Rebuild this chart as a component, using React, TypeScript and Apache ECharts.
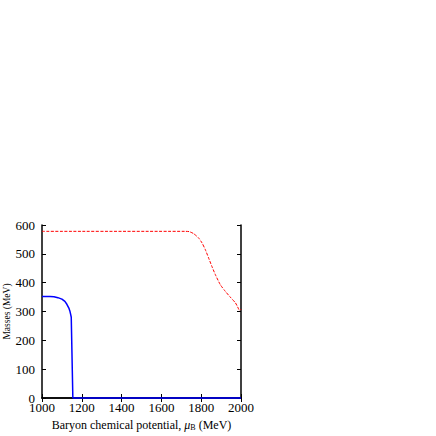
import React, { useEffect, useRef } from "react";
import * as echarts from "echarts";

const xTicks = [1000, 1200, 1400, 1600, 1800, 2000];
const yTicks = [0, 100, 200, 300, 400, 500, 600];

const blueMu = [1000, 1040, 1060, 1080, 1100, 1115, 1125, 1135, 1140, 1144, 1147, 1155, 1200, 2000];
const blueMass = [352, 352, 351, 348, 343, 335, 325, 312, 302, 290, 280, 0, 0, 0];

const redMu = [1000, 1720, 1740, 1762, 1787, 1804, 1821, 1837, 1854, 1871, 1896, 1921, 1946, 1972, 1983, 1990, 1995, 2000];
const redMass = [578, 578, 577, 570, 555, 538, 514, 486, 456, 428, 393, 370, 350, 330, 316, 306, 304, 308];

const FONT = "Liberation Serif";

export default function App() {
  const ref = useRef<HTMLDivElement>(null);
  useEffect(() => {
    if (!ref.current) return;
    const chart = echarts.init(ref.current, null, { renderer: "svg" });
    const axisCommon = {
      axisLine: { show: true, lineStyle: { color: "#000", width: 1.5 } },
      axisTick: { show: true, inside: true, length: 4, lineStyle: { color: "#000", width: 1 } },
      splitLine: { show: false },
    };
    chart.setOption({
      animation: false,
      backgroundColor: "#fff",
      grid: { left: 42, right: 195, top: 225, bottom: 38, containLabel: false },
      xAxis: [
        {
          type: "value",
          min: xTicks[0],
          max: xTicks[xTicks.length - 1],
          interval: 200,
          position: "bottom",
          ...axisCommon,
          axisLabel: { color: "#000", fontFamily: FONT, fontSize: 13, margin: 3, formatter: (v: number) => String(v) },
          name: "{a|Baryon chemical potential, }{i|μ}{s|B}{a| (MeV)}",
          nameLocation: "middle",
          nameGap: 20,
          nameTextStyle: {
            rich: {
              a: { fontFamily: FONT, fontSize: 12, color: "#000" },
              i: { fontFamily: FONT, fontSize: 12, fontStyle: "italic", color: "#000" },
              s: { fontFamily: FONT, fontSize: 8, color: "#000", verticalAlign: "bottom", padding: [5, 0, 0, 0] },
            },
          },
        },
        {
          type: "value",
          min: xTicks[0],
          max: xTicks[xTicks.length - 1],
          interval: 200,
          position: "top",
          ...axisCommon,
          axisLabel: { show: false },
        },
      ],
      yAxis: [
        {
          type: "value",
          min: yTicks[0],
          max: yTicks[yTicks.length - 1],
          interval: 100,
          position: "left",
          ...axisCommon,
          axisLabel: { color: "#000", fontFamily: FONT, fontSize: 13, margin: 7 },
          name: "Masses (MeV)",
          nameLocation: "middle",
          nameGap: 28,
          nameTextStyle: { fontFamily: FONT, fontSize: 9.5, color: "#000" },
        },
        {
          type: "value",
          min: yTicks[0],
          max: yTicks[yTicks.length - 1],
          interval: 100,
          position: "right",
          ...axisCommon,
          axisLabel: { show: false },
        },
      ],
      series: [
        {
          type: "line",
          data: redMu.map((m, i) => [m, redMass[i]]),
          showSymbol: false,
          smooth: 0.2,
          clip: false,
          lineStyle: { color: "#ff0000", width: 1, type: [3, 1.5] },
          z: 10,
        },
        {
          type: "line",
          data: blueMu.map((m, i) => [m, blueMass[i]]),
          showSymbol: false,
          clip: false,
          lineStyle: { color: "#0000ff", width: 1.5 },
          z: 10,
        },
      ],
    });
    return () => chart.dispose();
  }, []);
  return <div ref={ref} style={{ width: 436, height: 436, position: "fixed", left: 0, top: 0 }} />;
}
